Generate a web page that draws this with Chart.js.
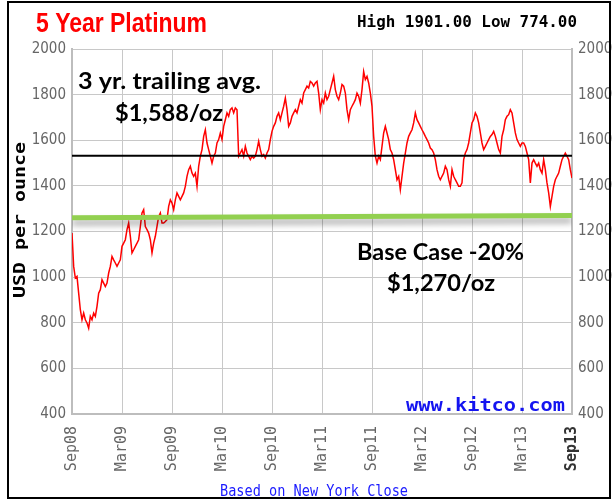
<!DOCTYPE html>
<html lang="en">
<head>
<meta charset="UTF-8">
<title>5 Year Platinum</title>
<style>
    html, body { margin: 0; padding: 0; background: #fff; }
    #wrap { width: 612px; height: 502px; }
</style>
<script src="https://cdn.jsdelivr.net/npm/chart.js"></script>
</head>
<body>
<div id="wrap"><canvas id="chart" width="612" height="502"></canvas></div>
<script>
// x axis is months since Sep 2008, one tick per half year
const xTickMonths = [0, 6, 12, 18, 24, 30, 36, 42, 48, 54, 60];
const xTickLabels = ['Sep08', 'Mar09', 'Sep09', 'Mar10', 'Sep10', 'Mar11', 'Sep11', 'Mar12', 'Sep12', 'Mar13', 'Sep13'];
const yMin = 400, yMax = 2000, yStep = 200;

const priceStep = 0.2;
const platinumPrices = [
    1193, 1047, 996, 1003, 930, 857, 813, 842, 813, 799,
    776, 828, 813, 842, 828, 872, 930, 945, 989, 974,
    959, 974, 1018, 1047, 1091, 1076, 1062, 1047, 1062, 1076,
    1135, 1149, 1164, 1208, 1237, 1179, 1106, 1120, 1135, 1149,
    1164, 1222, 1281, 1296, 1222, 1208, 1193, 1164, 1106, 1149,
    1179, 1222, 1266, 1281, 1237, 1237, 1244, 1252, 1310, 1339,
    1325, 1296, 1339, 1369, 1354, 1339, 1354, 1369, 1398, 1442,
    1471, 1486, 1456, 1442, 1456, 1398, 1486, 1530, 1559, 1617,
    1646, 1588, 1559, 1530, 1500, 1530, 1544, 1588, 1603, 1632,
    1603, 1661, 1690, 1720, 1705, 1734, 1742, 1720, 1742, 1734,
    1530, 1544, 1559, 1530, 1573, 1544, 1530, 1515, 1530, 1522,
    1530, 1559, 1595, 1559, 1530, 1537, 1522, 1544, 1559, 1603,
    1639, 1661, 1676, 1705, 1720, 1690, 1720, 1749, 1785, 1734,
    1661, 1676, 1705, 1720, 1734, 1720, 1749, 1778, 1763, 1807,
    1822, 1837, 1829, 1858, 1851, 1837, 1851, 1858, 1807,
    1734, 1778, 1763, 1807, 1778, 1793, 1822, 1851, 1880, 1822,
    1793, 1778, 1807, 1844, 1837, 1807, 1734, 1690, 1734, 1749,
    1763, 1778, 1807, 1793, 1763, 1822, 1901, 1866, 1880, 1851,
    1807, 1749, 1617, 1530, 1500, 1530, 1515, 1573, 1632, 1661,
    1632, 1603, 1559, 1544, 1515, 1471, 1427, 1442, 1383, 1442,
    1500, 1544, 1588, 1617, 1632, 1646, 1676, 1720, 1690, 1676,
    1661, 1646, 1632, 1617, 1603, 1588, 1566, 1559, 1544, 1515,
    1471, 1442, 1427, 1442, 1456, 1486, 1471, 1427, 1398, 1471,
    1442, 1427, 1413, 1398, 1398, 1413, 1515, 1544, 1559, 1588,
    1632, 1676, 1690, 1720, 1705, 1676, 1632, 1588, 1559, 1573,
    1588, 1603, 1617, 1625, 1639, 1617, 1588, 1559, 1544, 1617,
    1646, 1690, 1705, 1712, 1734, 1720, 1676, 1632, 1603, 1588,
    1573, 1588, 1588, 1573, 1544, 1515, 1413, 1500, 1515, 1500,
    1486, 1500, 1471, 1456, 1515, 1471, 1413, 1369, 1310, 1354,
    1398, 1427, 1442, 1456, 1486, 1515, 1530, 1544, 1530, 1515,
    1471, 1434
];

// drawn reference lines (start / end of the range)
const refLineMonths = [0, 60];
const trailingAvgLine = [1532, 1532];
const baseCaseLine = [1260, 1270];

function toPoints(xs, ys) {
    return ys.map((y, i) => ({ x: xs[i], y: y }));
}

const pricePoints = platinumPrices.map((v, i) => ({ x: i * priceStep, y: v }));

// draw text squeezed/stretched to a given width
function drawFitted(ctx, text, left, baseline, width, font, color) {
    ctx.save();
    ctx.font = font;
    ctx.fillStyle = color;
    ctx.textAlign = 'left';
    ctx.textBaseline = 'alphabetic';
    const w = ctx.measureText(text).width;
    ctx.translate(left, baseline);
    ctx.scale(width / w, 1);
    ctx.fillText(text, 0, 0);
    ctx.restore();
}

const decorations = {
    id: 'decorations',
    beforeDatasetDraw(chart, args) {
        if (args.index === 0) {
            const ctx = chart.ctx;
            ctx.save();
            ctx.shadowColor = 'rgba(0,0,0,0.35)';
            ctx.shadowBlur = 6;
            ctx.shadowOffsetY = 5;
        }
    },
    afterDatasetDraw(chart, args) {
        if (args.index === 0) chart.ctx.restore();
    },
    afterDraw(chart) {
        const ctx = chart.ctx;
        // outer frame
        ctx.save();
        ctx.strokeStyle = '#000';
        ctx.lineWidth = 2;
        ctx.strokeRect(8, 2, 602, 496);
        ctx.restore();

        drawFitted(ctx, '5 Year Platinum', 36, 32, 171, 'bold 27px "Liberation Sans", Arial, sans-serif', '#ff0000');
        drawFitted(ctx, 'High 1901.00 Low 774.00', 357, 27, 220, 'bold 16px "DejaVu Sans Mono", monospace', '#000');

        const ann = 'bold 22px Lato, "Open Sans", sans-serif';
        drawFitted(ctx, '3 yr. trailing avg.', 78, 89, 183, ann, '#000');
        drawFitted(ctx, '$1,588/oz', 115, 121, 108, ann, '#000');
        drawFitted(ctx, 'Base Case -20%', 357, 260, 167, ann, '#000');
        drawFitted(ctx, '$1,270/oz', 387, 291, 108, ann, '#000');

        drawFitted(ctx, 'www.kitco.com', 406, 411, 159, 'bold 18px "DejaVu Sans Mono", monospace', '#1414f0');
        drawFitted(ctx, 'Based on New York Close', 220, 496, 188, '15px "DejaVu Sans Mono", monospace', '#1a1aff');

        // rotated axis title
        ctx.save();
        ctx.translate(25, 298);
        ctx.rotate(-Math.PI / 2);
        drawFitted(ctx, 'USD per ounce', 0, 0, 156, 'bold 15px "DejaVu Sans Mono", monospace', '#000');
        ctx.restore();
    }
};

const tickFont = { family: '"Liberation Sans Narrow", "DejaVu Sans Condensed", "Arial Narrow", sans-serif', size: 15 };

new Chart(document.getElementById('chart'), {
    type: 'line',
    data: {
        datasets: [
            {
                label: 'Base case',
                data: toPoints(refLineMonths, baseCaseLine),
                borderColor: '#92d050',
                borderWidth: 5,
                pointRadius: 0
            },
            {
                label: '3 yr trailing avg',
                data: toPoints(refLineMonths, trailingAvgLine),
                borderColor: '#000',
                borderWidth: 2,
                pointRadius: 0
            },
            {
                label: 'Platinum',
                data: pricePoints,
                borderColor: '#ff0000',
                borderWidth: 1.5,
                pointRadius: 0,
                tension: 0
            }
        ]
    },
    plugins: [decorations],
    options: {
        responsive: false,
        animation: false,
        layout: { padding: { top: 49, left: 0, right: 0, bottom: 0 } },
        plugins: {
            legend: { display: false },
            tooltip: { enabled: false }
        },
        scales: {
            x: {
                type: 'linear',
                min: 0,
                max: 60,
                afterBuildTicks: (s) => { s.ticks = xTickMonths.map(v => ({ value: v })); },
                afterFit: (s) => { s.height = 88; },
                ticks: {
                    autoSkip: false,
                    minRotation: 90,
                    maxRotation: 90,
                    padding: 12,
                    callback: (v) => xTickLabels[xTickMonths.indexOf(v)],
                    font: (c) => ({ family: '"DejaVu Sans Mono", monospace', size: 15, weight: c.tick && c.tick.value === 60 ? 'bold' : 'normal' }),
                    color: (c) => (c.tick && c.tick.value === 60 ? '#333' : '#666')
                },
                grid: { color: '#c8c8c8', lineWidth: 1, drawTicks: false },
                border: { color: '#bdbdbd', width: 2 }
            },
            y: {
                position: 'left',
                min: yMin,
                max: yMax,
                afterFit: (s) => { s.width = 72; },
                ticks: { stepSize: yStep, padding: 6, color: '#666', font: tickFont, callback: (v) => String(v) },
                grid: { color: '#c8c8c8', lineWidth: 1, drawTicks: false },
                border: { color: '#bdbdbd', width: 2 }
            },
            y2: {
                position: 'right',
                min: yMin,
                max: yMax,
                afterFit: (s) => { s.width = 40; },
                ticks: { stepSize: yStep, padding: 6, color: '#666', font: tickFont, callback: (v) => String(v) },
                grid: { display: false, drawTicks: false },
                border: { color: '#bdbdbd', width: 2 }
            }
        }
    }
});
</script>
</body>
</html>
